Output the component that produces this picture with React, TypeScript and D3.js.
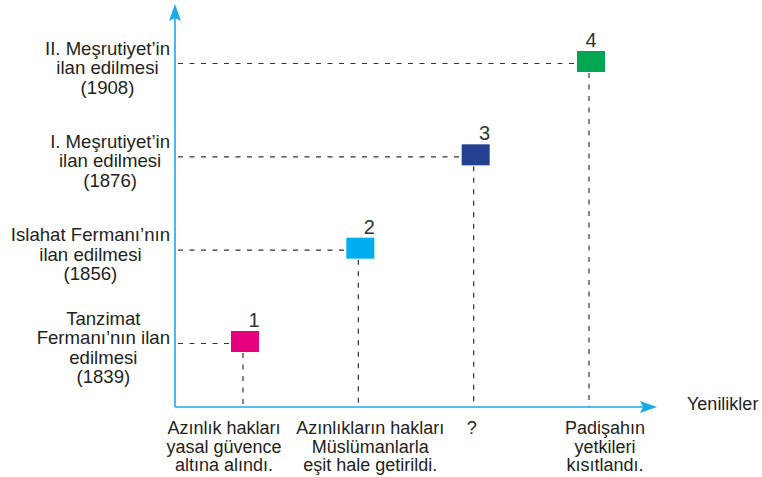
import React from 'react';
import * as d3 from 'd3';

// events on the vertical axis (bottom to top)
const events = [
  ['Tanzimat', 'Fermanı’nın ilan', 'edilmesi', '(1839)'],
  ['Islahat Fermanı’nın', 'ilan edilmesi', '(1856)'],
  ['I. Meşrutiyet’in', 'ilan edilmesi', '(1876)'],
  ['II. Meşrutiyet’in', 'ilan edilmesi', '(1908)'],
];

// innovations on the horizontal axis
const innovations = [
  ['Azınlık hakları', 'yasal güvence', 'altına alındı.'],
  ['Azınlıkların hakları', 'Müslümanlarla', 'eşit hale getirildi.'],
  ['?'],
  ['Padişahın', 'yetkileri', 'kısıtlandı.'],
];

const pointIds = ['1', '2', '3', '4'];
const pointColors = ['#e6007e', '#00aeef', '#25408f', '#00a651'];

const xAxisTitle = 'Yenilikler';

// small text nudges so the captions sit as in the print
const captionShift = [-21, 10, -4, 14];

const width = 762;
const height = 477;
const axisColor = '#1ba9e8';
const textColor = '#231f20';
const font = '"Liberation Sans", Arial, sans-serif';
const fontSize = 18;
const sideFontSize = 18.6;

const originX = 175;
const originY = 407;

const x = d3.scalePoint<string>()
  .domain(pointIds)
  .range([245, 591]);

const y = d3.scalePoint<string>()
  .domain(pointIds)
  .range([341.5, 61.5]);

const boxW = 28;
const boxH = 21;

let ctx: CanvasRenderingContext2D | null = null;
function textWidth(s: string) {
  if (!ctx) ctx = document.createElement('canvas').getContext('2d');
  if (!ctx) return s.length * 8;
  ctx.font = `${sideFontSize}px ${font}`;
  return ctx.measureText(s).width;
}

export default function App() {
  const lineH = 19.5;

  return (
    <svg width={width} height={height} style={{ position: 'absolute', left: 0, top: 0 }}
      fontFamily={font} fontSize={fontSize} fill={textColor}>
      {/* axes */}
      <line x1={originX} y1={originY} x2={originX} y2={18} stroke={axisColor} strokeWidth={1.6} />
      <path d={`M${originX},4 L${originX + 6},21 L${originX},18 L${originX - 6},21 Z`} fill={axisColor} />
      <line x1={originX} y1={originY} x2={643} y2={originY} stroke={axisColor} strokeWidth={1.6} />
      <path d={`M657,${originY} L640,${originY - 6} L643,${originY} L640,${originY + 6} Z`} fill={axisColor} />

      {/* guides */}
      {pointIds.map((id) => (
        <g key={'g' + id} stroke="#333" strokeWidth={1.2} strokeDasharray="5,6.5">
          <line x1={originX + 3} x2={x(id)! - boxW / 2} y1={y(id)! + 2} y2={y(id)! + 2} />
          <line x1={x(id)! - 2} x2={x(id)! - 2} y1={y(id)! + boxH / 2 + 1} y2={originY} />
        </g>
      ))}

      {/* boxes */}
      {pointIds.map((id, i) => (
        <g key={'b' + id}>
          <rect x={x(id)! - boxW / 2} y={y(id)! - boxH / 2} width={boxW} height={boxH} fill={pointColors[i]} />
          <text x={x(id)! + (i === 3 ? 0 : 9)} y={y(id)! - boxH / 2 - 4} textAnchor="middle" fontSize={20} fill="#333">{id}</text>
        </g>
      ))}

      {/* vertical axis labels */}
      {events.map((lines, i) => {
        const w = d3.max(lines, textWidth) || 0;
        const cx = 170 - w / 2;
        const cy = y(pointIds[i])! + 6;
        const top = cy - ((lines.length - 1) * lineH) / 2;
        return (
          <text key={'e' + i} textAnchor="middle" fontSize={sideFontSize}>
            {lines.map((l, j) => (
              <tspan key={j} x={cx} y={top + j * lineH} dy="0.35em">{l}</tspan>
            ))}
          </text>
        );
      })}

      {/* horizontal axis captions */}
      {innovations.map((lines, i) => (
        <text key={'n' + i} textAnchor="middle">
          {lines.map((l, j) => (
            <tspan key={j} x={x(pointIds[i])! + captionShift[i]} y={428 + j * 18.5} dy="0.35em">{l}</tspan>
          ))}
        </text>
      ))}

      <text x={687} y={404} dy="0.35em">{xAxisTitle}</text>
    </svg>
  );
}
